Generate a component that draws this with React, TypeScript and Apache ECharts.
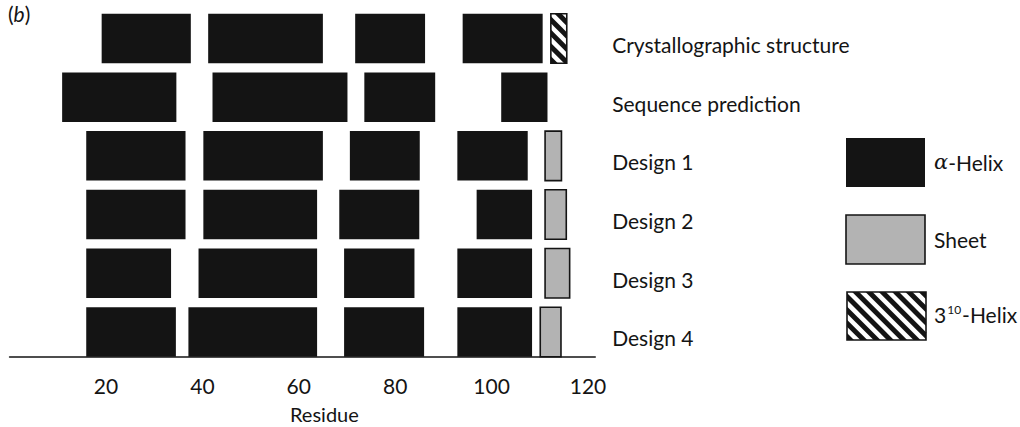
import React, { useEffect, useRef } from "react";
import * as echarts from "echarts";

// ---- data (residue ranges) ----
const rowNames = [
  "Crystallographic structure",
  "Sequence prediction",
  "Design 1",
  "Design 2",
  "Design 3",
  "Design 4",
];
const tickValues = [20, 40, 60, 80, 100, 120];

// alpha-helix segments per row: [start, end]
const crystalHelix = [[19.1, 37.6], [41.2, 65.0], [71.7, 86.2], [94.0, 110.6]];
const predictionHelix = [[10.9, 34.6], [42.1, 70.1], [73.6, 88.3], [102.0, 111.6]];
const design1Helix = [[15.9, 36.5], [40.2, 65.0], [70.6, 85.1], [92.9, 107.5]];
const design2Helix = [[15.9, 36.5], [40.2, 63.8], [68.4, 85.0], [96.9, 108.4]];
const design3Helix = [[15.9, 33.5], [39.2, 63.8], [69.4, 84.0], [92.9, 108.4]];
const design4Helix = [[15.9, 34.5], [37.1, 63.8], [69.4, 86.0], [92.9, 108.4]];
// sheet segments: [row, start, end]
const sheetSegments = [[2, 111.1, 114.5], [3, 111.1, 115.5], [4, 111.1, 116.2], [5, 110.1, 114.4]];
// 3(10)-helix segments: [row, start, end]
const helix310Segments = [[0, 112.3, 115.6]];

const helixRows = [crystalHelix, predictionHelix, design1Helix, design2Helix, design3Helix, design4Helix];

const INK = "#141414";
const SHEET = "#b3b3b3";
const FONT = "Lato, 'Open Sans', sans-serif";
const FS = 21;

// clip polygon by half-plane a*x + b*y + c >= 0
function clipHalf(poly: number[][], a: number, b: number, c: number) {
  const out: number[][] = [];
  for (let i = 0; i < poly.length; i++) {
    const p = poly[i];
    const q = poly[(i + 1) % poly.length];
    const fp = a * p[0] + b * p[1] + c;
    const fq = a * q[0] + b * q[1] + c;
    if (fp >= 0) out.push(p);
    if ((fp >= 0) !== (fq >= 0)) {
      const t = fp / (fp - fq);
      out.push([p[0] + t * (q[0] - p[0]), p[1] + t * (q[1] - p[1])]);
    }
  }
  return out;
}

function hatchPolys(x: number, y: number, w: number, h: number, spacing: number, thick: number) {
  const rectPoly = [[x, y], [x + w, y], [x + w, y + h], [x, y + h]];
  const polys: number[][][] = [];
  const cMin = x - (y + h) - spacing;
  const cMax = x + w - y + spacing;
  for (let c = cMin; c <= cMax; c += spacing) {
    let p = clipHalf(rectPoly, 1, -1, -c);
    p = clipHalf(p, -1, 1, c + thick);
    if (p.length >= 3) polys.push(p);
  }
  return polys;
}

function hatchElements(x: number, y: number, w: number, h: number) {
  const children: any[] = [
    { type: "rect", shape: { x, y, width: w, height: h }, style: { fill: "#fff" } },
  ];
  hatchPolys(x, y, w, h, 13.3, 7).forEach((pts) =>
    children.push({ type: "polygon", shape: { points: pts }, style: { fill: INK } })
  );
  children.push({
    type: "rect",
    shape: { x, y, width: w, height: h },
    style: { fill: "none", stroke: INK, lineWidth: 1.6 },
  });
  return children;
}

const BAR_FRAC = 0.843;

function barGeom(params: any, api: any) {
  const row = api.value(0);
  const p0 = api.coord([api.value(1), row]);
  const p1 = api.coord([api.value(2), row]);
  const band = api.size([0, 1])[1];
  const bottom = p0[1] + band / 2;
  const h = band * BAR_FRAC;
  return { x: p0[0], y: bottom - h, width: p1[0] - p0[0], height: h };
}

export default function App() {
  const ref = useRef<HTMLDivElement>(null);
  useEffect(() => {
    if (!ref.current) return;
    const chart = echarts.init(ref.current, null, { renderer: "svg" });

    const helixData: number[][] = [];
    helixRows.forEach((segs, r) => segs.forEach((s) => helixData.push([r, s[0], s[1]])));

    const option: any = {
      animation: false,
      backgroundColor: "#ffffff",
      grid: { left: 9.6, top: 4.5, width: 585.6, height: 352.2, outerBoundsMode: "none", containLabel: false },
      xAxis: {
        type: "value",
        min: 0,
        max: 121.5,
        interval: 20,
        splitLine: { show: false },
        axisTick: { show: false },
        axisLine: { show: true, lineStyle: { color: INK, width: 1.6 } },
        axisLabel: {
          margin: 18,
          fontSize: FS,
          color: INK,
          fontFamily: FONT,
          formatter: (v: number) => (tickValues.includes(v) ? String(v) : ""),
        },
        name: "Residue",
        nameLocation: "middle",
        nameGap: 47,
        nameTextStyle: { fontSize: 20, color: INK, fontFamily: FONT, padding: [0, 0, 0, 44] },
      },
      yAxis: {
        type: "category",
        data: rowNames,
        inverse: true,
        position: "right",
        axisLine: { show: false },
        axisTick: { show: false },
        splitLine: { show: false },
        axisLabel: {
          margin: 17,
          align: "left",
          verticalAlign: "top",
          fontSize: FS,
          color: INK,
          fontFamily: FONT,
        },
      },
      series: [
        {
          name: "α-Helix",
          type: "custom",
          data: helixData,
          encode: { x: [1, 2], y: 0 },
          renderItem: (params: any, api: any) => ({
            type: "rect",
            shape: barGeom(params, api),
            style: { fill: INK },
          }),
        },
        {
          name: "Sheet",
          type: "custom",
          data: sheetSegments,
          encode: { x: [1, 2], y: 0 },
          renderItem: (params: any, api: any) => ({
            type: "rect",
            shape: barGeom(params, api),
            style: { fill: SHEET, stroke: INK, lineWidth: 1.6 },
          }),
        },
        {
          name: "3-10 Helix",
          type: "custom",
          data: helix310Segments,
          encode: { x: [1, 2], y: 0 },
          renderItem: (params: any, api: any) => {
            const g = barGeom(params, api);
            return { type: "group", children: hatchElements(g.x, g.y, g.width, g.height) };
          },
        },
      ],
      graphic: [
        {
          type: "text",
          left: 8,
          top: 3,
          style: {
            text: "({b|b})",
            fontSize: FS,
            fill: INK,
            fontFamily: FONT,
            rich: { b: { fontStyle: "italic", fontSize: FS, fill: INK, fontFamily: FONT } },
          },
        },
        { type: "rect", shape: { x: 846, y: 138, width: 79, height: 49 }, style: { fill: INK } },
        {
          type: "text",
          x: 934,
          y: 162,
          style: {
            text: "{a|α}-Helix",
            fontSize: FS,
            fill: INK,
            fontFamily: FONT,
            verticalAlign: "middle",
            rich: { a: { fontStyle: "italic", fontFamily: "'DejaVu Serif', serif", fontSize: FS, fill: INK } },
          },
        },
        {
          type: "rect",
          shape: { x: 846, y: 215, width: 79, height: 49 },
          style: { fill: SHEET, stroke: INK, lineWidth: 1.6 },
        },
        {
          type: "text",
          x: 934,
          y: 239,
          style: { text: "Sheet", fontSize: FS, fill: INK, fontFamily: FONT, verticalAlign: "middle" },
        },
        { type: "group", children: hatchElements(847, 292, 79, 48) },
        {
          type: "text",
          x: 934,
          y: 314,
          style: {
            text: "3{s|10}-Helix",
            fontSize: FS,
            fill: INK,
            fontFamily: FONT,
            verticalAlign: "middle",
            rich: { s: { fontSize: 12, verticalAlign: "top", fill: INK, fontFamily: FONT, padding: [0, 1, 9, 1] } },
          },
        },
      ],
    };
    chart.setOption(option);
    return () => chart.dispose();
  }, []);
  return (
    <div
      ref={ref}
      style={{ position: "absolute", left: 0, top: 0, width: 1020, height: 427, background: "#fff" }}
    />
  );
}
